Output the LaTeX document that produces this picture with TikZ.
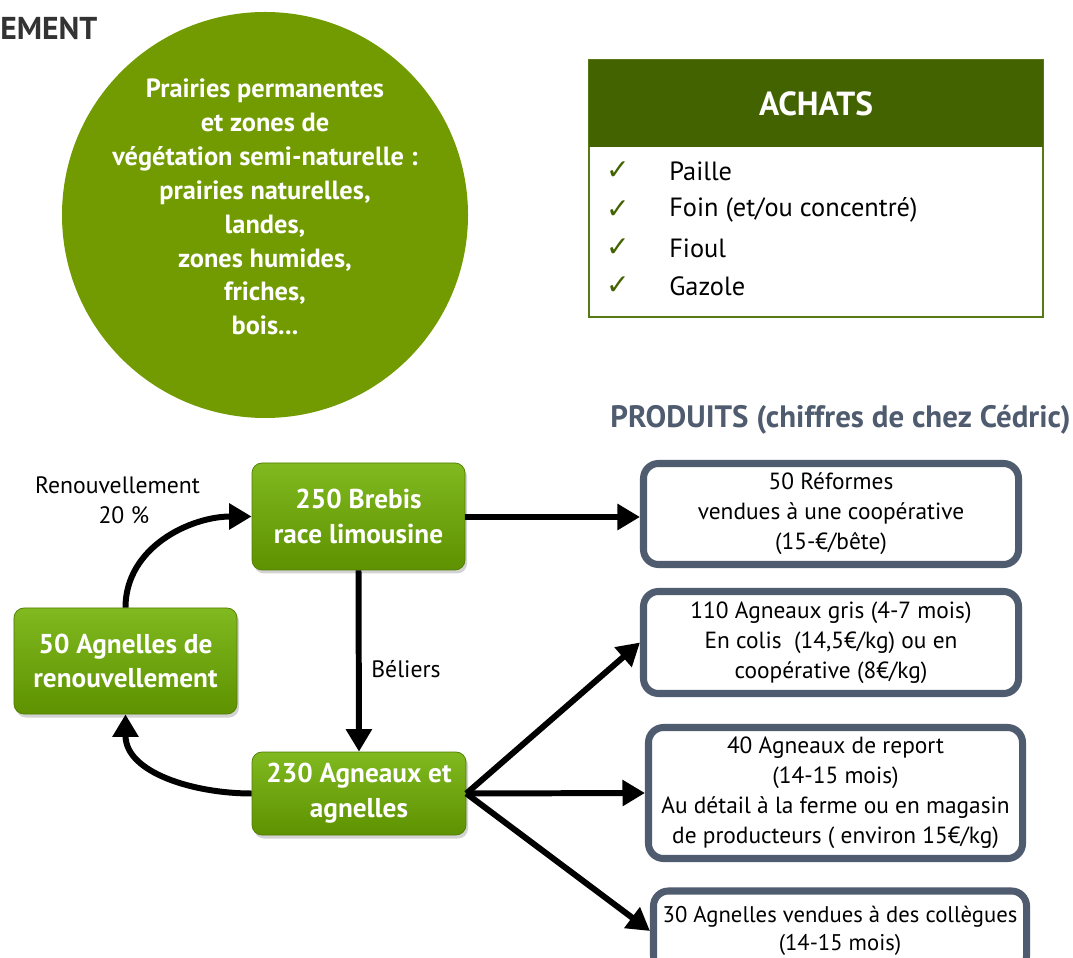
\documentclass[tikz,border=0pt]{standalone}
\usepackage{fontspec}
\setmainfont{PT Sans}
\newfontfamily\checkfont{DejaVu Sans}
\usepackage{tikz}
\usetikzlibrary{arrows.meta, shadows}

\definecolor{prairie}{RGB}{113,155,0}
\definecolor{achatdark}{RGB}{67,98,0}
\definecolor{achatline}{RGB}{88,122,20}
\definecolor{ardoise}{RGB}{79,91,110}
\definecolor{titregris}{RGB}{51,51,51}
\definecolor{troupeautop}{RGB}{128,185,32}
\definecolor{troupeaubot}{RGB}{94,146,0}

\begin{document}
\begin{tikzpicture}[
    troupeau/.style = {rounded corners = 0.2cm, top color = troupeautop, bottom color = troupeaubot,
      draw = troupeaubot!85!black, line width = 0.4pt,
      drop shadow = {opacity = 0.35, shadow xshift = 0.04cm, shadow yshift = -0.07cm},
      text = white, font = \fontsize{15.5}{19.8}\selectfont\bfseries, align = center, inner sep = 0},
    produit/.style = {rounded corners = 0.3cm, draw = ardoise, line width = 4pt, fill = white,
      font = \fontsize{13.3}{17}\selectfont, align = center, inner sep = 0},
    flux/.style = {line width = 3.4pt, -{Triangle[length = 0.45cm, width = 0.5cm]}},
    coche/.style = {text = achatdark, font = \checkfont\fontsize{16}{16}\selectfont},
    achat/.style = {anchor = west, inner sep = 0, font = \fontsize{15}{18}\selectfont}
  ]
  \path [use as bounding box, clip] (0,0) rectangle (21.46,19.14);

  \node (titre) [anchor = west, inner sep = 0, text = titregris, font = \fontsize{18}{20}\selectfont\bfseries] at (0,18.58) {EMENT};

  \node (prairie) [circle, fill = prairie, minimum size = 8.12cm] at (5.30,14.84) {};
  \node (prairietxt) [text = white, align = center, font = \fontsize{15}{19.3}\selectfont\bfseries] at (5.30,15.0)
    {Prairies permanentes\\et zones de\\végétation semi-naturelle :\\prairies naturelles,\\landes,\\zones humides,\\friches,\\bois...};

  \draw [achatline, line width = 1pt, fill = white] (11.78,12.80) rectangle (20.86,17.94);
  \fill [achatdark] (11.78,16.20) rectangle (20.86,17.94);
  \node (achats) [text = white, font = \fontsize{19}{21}\selectfont\bfseries] at (16.32,17.07) {ACHATS};
  \foreach \y [count = \i] in {15.72, 14.94, 14.18, 13.42}{
    \node (coche\i) [coche] at (12.36,\y) {✓};
  }
  \node (paille) [achat] at (13.38,15.72) {Paille};
  \node (foin) [achat] at (13.38,14.94) {Foin (et/ou concentré)};
  \node (fioul) [achat] at (13.38,14.18) {Fioul};
  \node (gazole) [achat] at (13.38,13.42) {Gazole};

  \node (produits) [anchor = west, inner sep = 0, text = ardoise, font = \fontsize{17.6}{20}\selectfont\bfseries] at (12.2,10.74)
    {PRODUITS (chiffres de chez Cédric)};

  \node (brebis) [troupeau, minimum width = 4.26cm, minimum height = 2.14cm] at (7.17,8.81) {250 Brebis\\race limousine};
  \node (agnelles) [troupeau, minimum width = 4.46cm, minimum height = 2.12cm] at (2.51,5.92) {50 Agnelles de\\renouvellement};
  \node (agneaux) [troupeau, minimum width = 4.28cm, minimum height = 1.66cm] at (7.18,3.27) {230 Agneaux et\\agnelles};

  \node (reformes) [produit, minimum width = 7.5cm, minimum height = 2.02cm] at (16.62,8.86)
    {50 Réformes\\vendues à une coopérative\\(15-€/bête)};
  \node (gris) [produit, minimum width = 7.5cm, minimum height = 2.04cm] at (16.62,6.29)
    {110 Agneaux gris (4-7 mois)\\En colis\ \ (14,5€/kg) ou en\\coopérative (8€/kg)};
  \node (report) [produit, minimum width = 7.48cm, minimum height = 2.62cm] at (16.71,3.28)
    {40 Agneaux de report\\(14-15 mois)\\Au détail à la ferme ou en magasin\\de producteurs ( environ 15€/kg)};
  \node (colleg) [produit, minimum width = 7.46cm, minimum height = 1.6cm, font = \fontsize{12.9}{16}\selectfont] at (16.80,0.52)
    {30 Agnelles vendues à des collègues\\(14-15 mois)};

  \node (renouv) [align = center, font = \fontsize{13.5}{17}\selectfont] at (2.35,9.13) {Renouvellement\\\ \ 20 \%};
  \node (beliers) [font = \fontsize{13.5}{17}\selectfont] at (8.12,5.76) {Béliers};

  \draw [flux] (brebis.east |- 0,8.8) -- (reformes.west |- 0,8.8);
  \draw [flux] (brebis.south) -- (agneaux.north);
  \draw [flux] (agneaux.east) -- (gris.west);
  \draw [flux] (agneaux.east) -- (report.west);
  \draw [flux] (agneaux.east) -- (colleg.west);
  \draw [flux] (agneaux.west) to [out = 180, in = -90] (agnelles.south);
  \draw [flux] (agnelles.north) to [out = 90, in = 180] (brebis.west);
\end{tikzpicture}
\end{document}
